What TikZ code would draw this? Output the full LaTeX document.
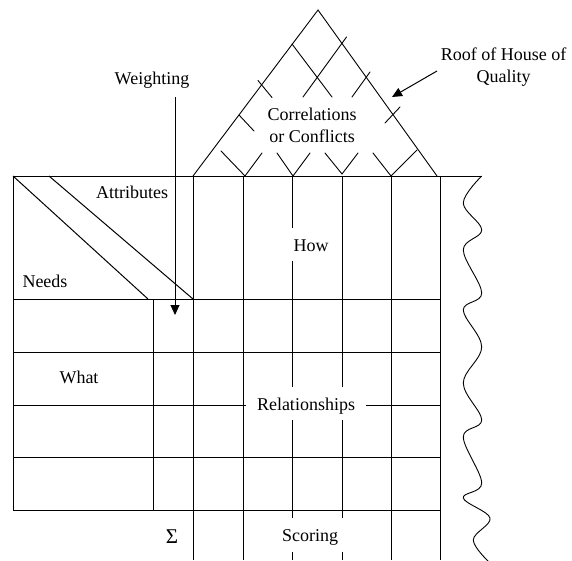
\documentclass[tikz,border=0pt]{standalone}
\usepackage{fontspec}
\setmainfont{Liberation Serif}
\usetikzlibrary{arrows.meta}
\begin{document}
\begin{tikzpicture}[x=1pt,y=-1pt,
  every node/.style={font=\fontsize{18}{22}\selectfont, inner sep=0pt},
  gridline/.style={line width=1pt},
  roofline/.style={line width=0.9pt, line cap=round},
  mask/.style={fill=white, anchor=base},
  pointer/.style={line width=1pt, -{Triangle[length=10pt,width=9pt]}}]
\useasboundingbox (0,0) rectangle (572,560);

% --- body of the house: outer frame and rows ---
\draw[gridline] (13,176) -- (482,176);
\draw[gridline] (13,176) -- (13,510);
\foreach \y in {299,352,405,457,510} \draw[gridline] (13,\y) -- (440,\y);
\draw[gridline] (153,299) -- (153,510);
\foreach \x in {193,243,292,342,391,440} \draw[gridline] (\x,176) -- (\x,560);

% --- split header cell ---
\draw[gridline] (13,176) -- (148,299);
\draw[gridline] (49,176) -- (193,299);

% --- torn right edge ---
\draw[line width=0.9pt] plot[smooth, tension=0.6] coordinates {
  (481.7,176) (463.3,203) (481.7,230) (463.3,250) (481.7,293)
  (463.3,310) (481.7,347) (463.3,383) (481.7,420) (463.3,437)
  (481.7,483) (463.3,498) (490,518) (473.3,540) (490,563)};

% --- roof outline and lattice ---
\draw[roofline] (193,176) -- (318,10) -- (437,176);
\draw[roofline] (292,44) -- (332,97);
\draw[roofline] (303,97) -- (346.5,37);
\draw[roofline] (352,97) -- (370,72);
\draw[roofline] (258,80.5) -- (272,97.5);
\draw[roofline] (239,115) -- (254,131);
\draw[roofline] (385,123) -- (400,107);
\draw[roofline] (221,151) -- (245,176) -- (262,153);
\draw[roofline] (277,153) -- (293,176) -- (310,153);
\draw[roofline] (325,153) -- (342,174) -- (358,153);
\draw[roofline] (373,153) -- (391,176) -- (417,150);

% --- labels ---
\node[anchor=base] (attr) at (132,198) {Attributes};
\node[anchor=base] (needs) at (45,287) {Needs};
\node[anchor=base] (what) at (79,383) {What};
\node[anchor=base, font=\fontsize{21}{24}\selectfont] (sigma) at (172,543.3) {Σ};
\node[mask, text height=23.7pt, text depth=9.3pt, inner xsep=4pt] (how) at (311,251.7) {How};
\node[mask, text height=23pt, text depth=10pt, minimum width=120pt] (rel) at (306,410) {Relationships};
\node[mask, text height=23.7pt, text depth=10.3pt, minimum width=68pt] (score) at (310,541.7) {Scoring};
\node[align=center] (corr) at (312,125) {Correlations\\or Conflicts};
\node[anchor=base] (weight) at (152,84.5) {Weighting};
\node[align=center] (roof) at (503.5,66.8) {Roof of House of\\Quality};

% --- pointers ---
\coordinate (wtop) at (175,97);
\coordinate (wtip) at (175,315);
\draw[pointer] (wtop) -- (wtip);
\coordinate (rtail) at (437,71);
\coordinate (rtip) at (392,97);
\draw[pointer] (rtail) -- (rtip);
\end{tikzpicture}
\end{document}
